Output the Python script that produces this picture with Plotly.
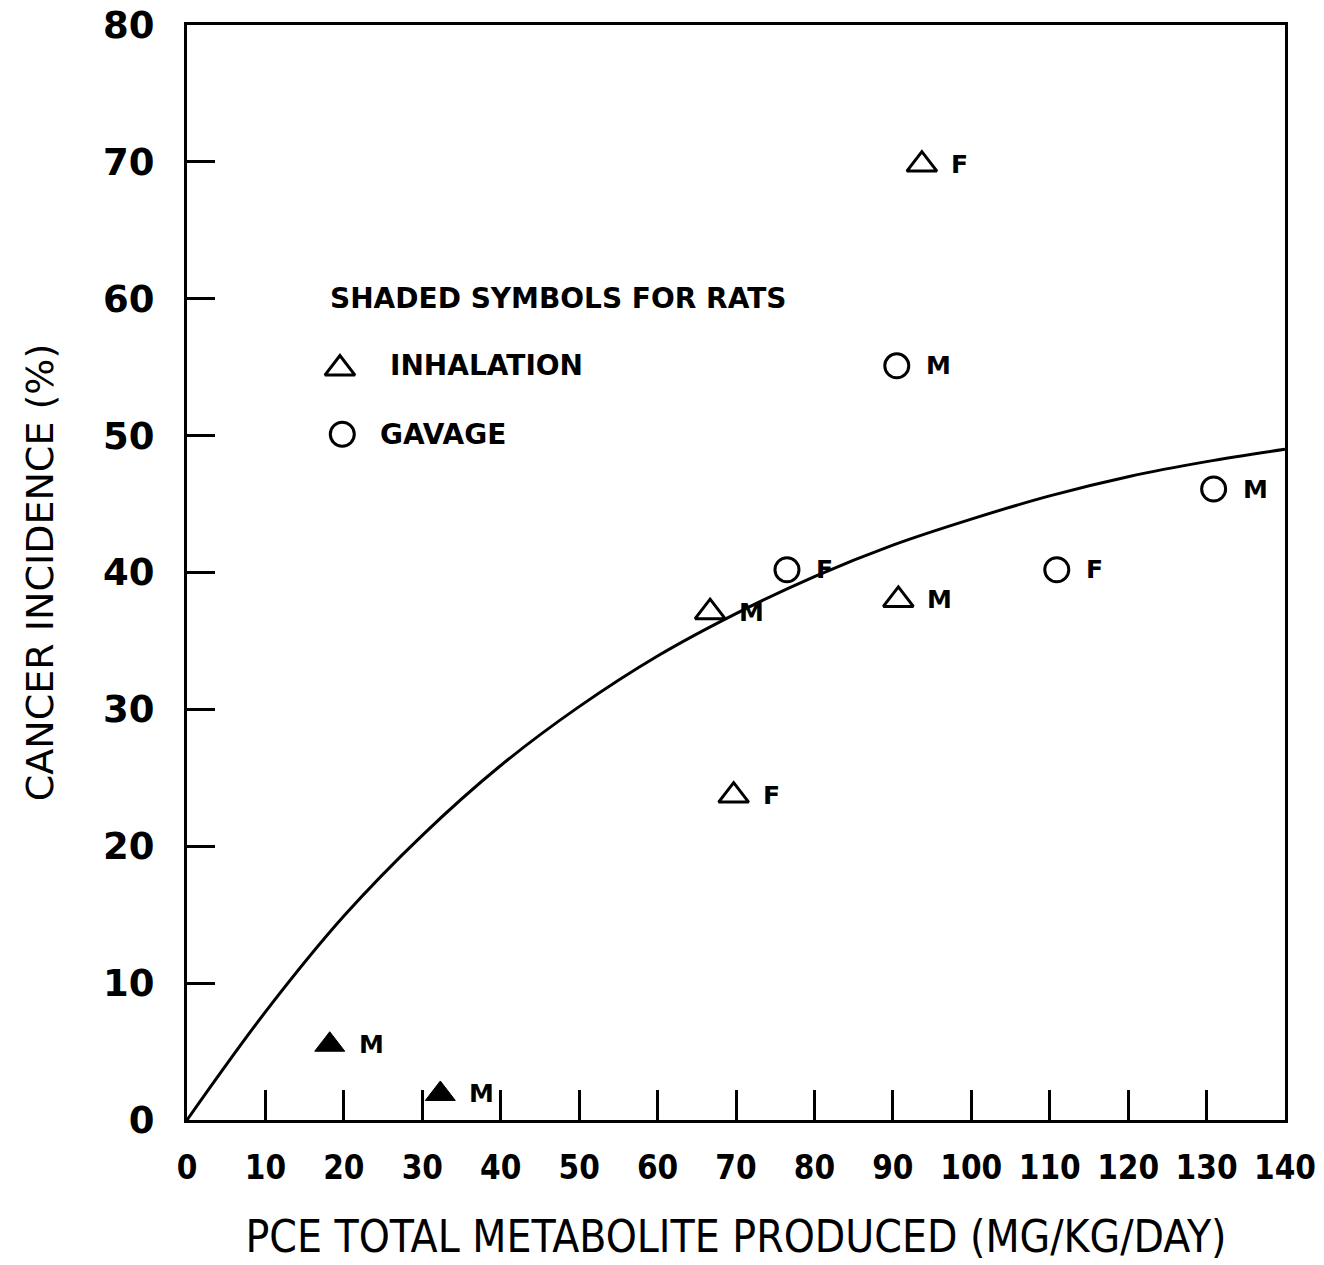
import plotly.graph_objects as go

# ---- data ----
x_ticks = [0, 10, 20, 30, 40, 50, 60, 70, 80, 90, 100, 110, 120, 130, 140]
y_ticks = [0, 10, 20, 30, 40, 50, 60, 70, 80]

curve_x = [0, 10, 20, 30, 40, 50, 60, 70, 80, 90, 100, 110, 120, 130, 140]
curve_y = [0, 7.9, 14.9, 20.8, 25.9, 30.2, 33.9, 37.0, 39.7, 42.0, 43.9, 45.6, 47.0, 48.1, 49.0]

rat_inh_x = [18.2, 32.3]
rat_inh_y = [5.5, 1.9]
rat_inh_lbl = ["M", "M"]

mouse_inh_x = [66.7, 69.7, 90.7, 93.7]
mouse_inh_y = [37.1, 23.7, 38.0, 69.8]
mouse_inh_lbl = ["M", "F", "M", "F"]

mouse_gav_x = [76.5, 90.5, 110.9, 130.9]
mouse_gav_y = [40.2, 55.1, 40.2, 46.1]
mouse_gav_lbl = ["F", "M", "F", "M"]

legend_title = "SHADED SYMBOLS FOR RATS"
legend_items = ["INHALATION", "GAVAGE"]

x_title = "PCE TOTAL METABOLITE PRODUCED (MG/KG/DAY)"
y_title = "CANCER INCIDENCE (%)"

# ---- figure ----
fig = go.Figure()

fig.add_trace(go.Scatter(x=curve_x, y=curve_y, mode="lines",
                         line=dict(color="black", width=3, shape="spline", smoothing=1.0),
                         hoverinfo="skip", showlegend=False))

fig.add_trace(go.Scatter(x=rat_inh_x, y=rat_inh_y, mode="markers",
                         marker=dict(symbol="triangle-up", size=26, color="black",
                                     line=dict(color="black", width=1)),
                         showlegend=False))
fig.add_trace(go.Scatter(x=mouse_inh_x, y=mouse_inh_y, mode="markers",
                         marker=dict(symbol="triangle-up-open", size=26, color="black",
                                     line=dict(color="black", width=3)),
                         showlegend=False))
fig.add_trace(go.Scatter(x=mouse_gav_x, y=mouse_gav_y, mode="markers",
                         marker=dict(symbol="circle-open", size=24, color="black",
                                     line=dict(color="black", width=3)),
                         showlegend=False))

# legend-like symbols inside the plot
fig.add_trace(go.Scatter(x=[19.5], y=[54.9], mode="markers",
                         marker=dict(symbol="triangle-up-open", size=26, color="black",
                                     line=dict(color="black", width=3)),
                         showlegend=False))
fig.add_trace(go.Scatter(x=[19.8], y=[50.1], mode="markers",
                         marker=dict(symbol="circle-open", size=24, color="black",
                                     line=dict(color="black", width=3)),
                         showlegend=False))

label_font = dict(family="DejaVu Sans", size=25, color="black", weight="bold")
annotations = []
for xs, ys, ls in [(rat_inh_x, rat_inh_y, rat_inh_lbl),
                   (mouse_inh_x, mouse_inh_y, mouse_inh_lbl),
                   (mouse_gav_x, mouse_gav_y, mouse_gav_lbl)]:
    for xv, yv, lv in zip(xs, ys, ls):
        annotations.append(dict(x=xv, y=yv, xref="x", yref="y", text=lv, showarrow=False,
                                xanchor="left", yanchor="middle", xshift=27,
                                font=label_font))

legend_font = dict(family="DejaVu Sans", size=28, color="black", weight="bold")
annotations.append(dict(x=18.0, y=60, xref="x", yref="y", text=legend_title, showarrow=False,
                        xanchor="left", yanchor="middle", font=legend_font))
annotations.append(dict(x=25.6, y=55.1, xref="x", yref="y", text=legend_items[0], showarrow=False,
                        xanchor="left", yanchor="middle", font=legend_font))
annotations.append(dict(x=24.4, y=50.1, xref="x", yref="y", text=legend_items[1], showarrow=False,
                        xanchor="left", yanchor="middle", font=legend_font))

fig.update_layout(
    width=1324, height=1265,
    margin=dict(l=187, r=39, t=25, b=145),
    plot_bgcolor="white", paper_bgcolor="white",
    showlegend=False,
    annotations=annotations,
)

cond = "DejaVu Sans Condensed, Roboto Condensed, Roboto, sans-serif"
fig.update_xaxes(range=[0, 140], tickvals=x_ticks, ticktext=[str(v) for v in x_ticks],
                 ticks="inside", ticklen=30, tickwidth=3, tickcolor="black",
                 showline=True, linewidth=3, linecolor="black", mirror=True,
                 showgrid=False, zeroline=False, ticklabelstandoff=16, automargin=False,
                 tickfont=dict(family=cond, size=33, color="black", weight="bold"),
                 title=dict(text=x_title, standoff=36,
                            font=dict(family=cond, size=44, color="black")))
fig.update_yaxes(range=[0, 80], tickvals=y_ticks, ticktext=[str(v) for v in y_ticks],
                 ticks="inside", ticklen=28, tickwidth=3, tickcolor="black",
                 showline=True, linewidth=3, linecolor="black", mirror=True,
                 showgrid=False, zeroline=False, ticklabelstandoff=22, automargin=False,
                 tickfont=dict(family="DejaVu Sans", size=37, color="black", weight="bold"),
                 title=dict(text=y_title, standoff=38,
                            font=dict(family="DejaVu Sans", size=38, color="black")))

fig.write_html("out.html")
